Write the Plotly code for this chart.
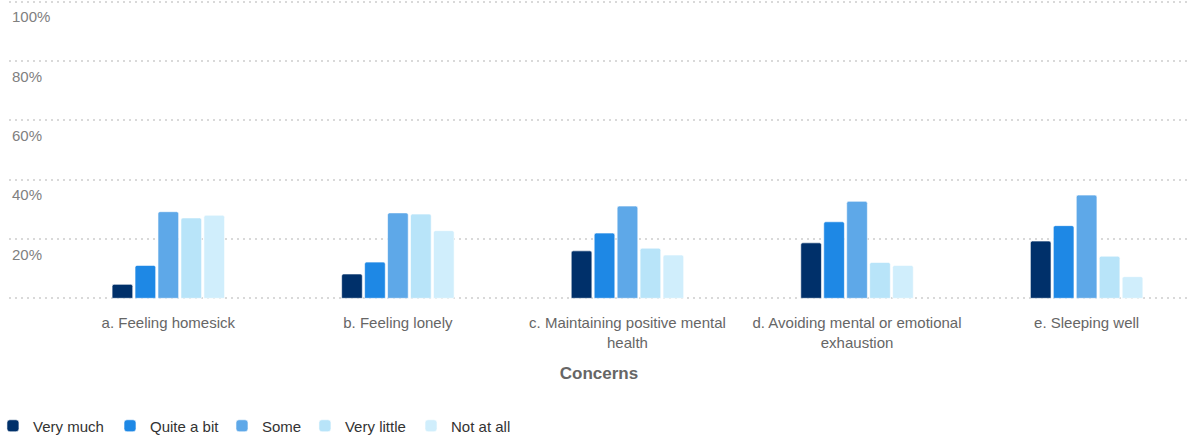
import plotly.graph_objects as go

categories = [
    "a. Feeling homesick",
    "b. Feeling lonely",
    "c. Maintaining positive mental<br>health",
    "d. Avoiding mental or emotional<br>exhaustion",
    "e. Sleeping well",
]
series_names = ["Very much", "Quite a bit", "Some", "Very little", "Not at all"]
very_much = [4.7, 8.2, 16.0, 18.7, 19.3]
quite_a_bit = [11.1, 12.2, 22.0, 25.8, 24.5]
some = [29.2, 28.8, 31.1, 32.7, 34.8]
very_little = [27.1, 28.4, 16.9, 12.1, 14.2]
not_at_all = [28.0, 22.8, 14.6, 11.1, 7.3]
colors = ["#00306a", "#1e88e5", "#5ea8e8", "#b8e4f9", "#d0eefc"]
y_tickvals = [0, 20, 40, 60, 80, 100]
y_ticktext = ["", "20%", "40%", "60%", "80%", "100%"]

values = [very_much, quite_a_bit, some, very_little, not_at_all]
legend_ids = ["legend", "legend2", "legend3", "legend4", "legend5"]
legend_x = [-0.0136, 0.0856, 0.1805, 0.2508, 0.3407]

fig = go.Figure()
for name, vals, col, lid in zip(series_names, values, colors, legend_ids):
    fig.add_trace(go.Bar(
        name=name, x=list(range(len(categories))), y=vals,
        marker=dict(color=col, line=dict(color="rgba(255,255,255,0.6)", width=1)),
        hovertemplate="%{y}%<extra>" + name + "</extra>",
        legend=lid,
    ))

font_family = "Liberation Sans, Arial, sans-serif"
legend_layout = {}
for lid, lx in zip(legend_ids, legend_x):
    legend_layout[lid] = dict(
        orientation="h", x=lx, xanchor="left", y=-0.42, yanchor="middle",
        font=dict(size=15, color="#333333"), itemwidth=30,
        bgcolor="rgba(0,0,0,0)",
    )

fig.update_layout(
    barmode="group",
    bargap=0.5,
    bargroupgap=0.1,
    barcornerradius=2,
    width=1191, height=441,
    margin=dict(l=9, r=2, t=0, b=141, autoexpand=False),
    paper_bgcolor="white", plot_bgcolor="white",
    font=dict(family=font_family, color="#666666", size=15),
    showlegend=True,
    xaxis=dict(
        tickmode="array", tickvals=list(range(len(categories))), ticktext=categories,
        range=[-0.694, 4.446], showgrid=False, zeroline=False, showline=False,
        ticks="", tickfont=dict(size=15, color="#666666"), ticklabelstandoff=12,
        title=dict(text="<b>Concerns</b>", font=dict(size=17, color="#666666"), standoff=17),
        fixedrange=True, automargin=False,
    ),
    yaxis=dict(
        range=[-0.57, 100.57], tickmode="array", tickvals=y_tickvals, ticktext=y_ticktext,
        ticklabelposition="inside bottom", ticklabelshift=5,
        tickfont=dict(size=15, color="#808080"),
        showgrid=True, gridcolor="#d9d9d9", gridwidth=2, griddash="2px,4px",
        zeroline=False, showline=False, ticks="", fixedrange=True, automargin=False,
    ),
    **legend_layout,
)

fig.write_html(
    "out.html",
    config={"displayModeBar": False},
    post_script="document.body.style.margin='0';",
)
